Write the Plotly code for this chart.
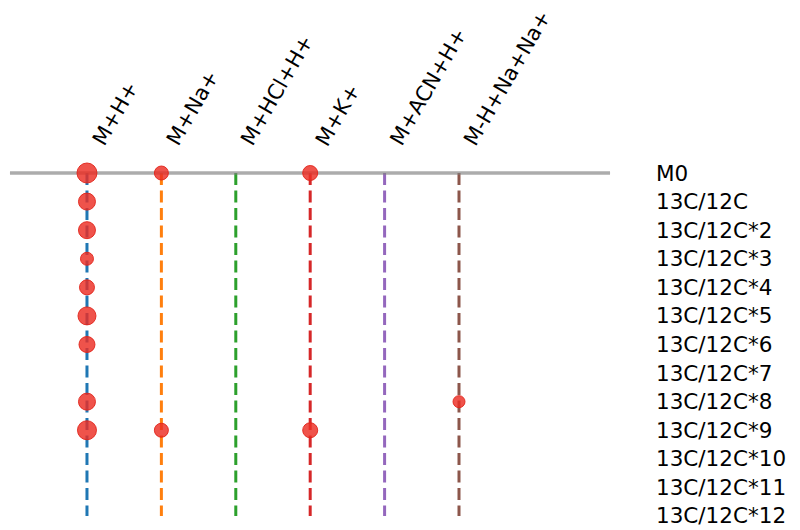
import plotly.graph_objects as go

adducts = ["M+H+", "M+Na+", "M+HCl+H+", "M+K+", "M+ACN+H+", "M-H+Na+Na+"]
isotopes = ["M0", "13C/12C"] + [f"13C/12C*{i}" for i in range(2, 13)]
line_colors = ["#1f77b4", "#ff7f0e", "#2ca02c", "#d62728", "#9467bd", "#8c564b"]

# marker diameters (px) per adduct, per isotope row; None = no detection
sizes_mh = [20, 17, 17, 13, 15, 18, 16, None, 17, 19, None, None, None]
sizes_mna = [14, None, None, None, None, None, None, None, None, 14, None, None, None]
sizes_mhcl = [None] * 13
sizes_mk = [15, None, None, None, None, None, None, None, None, 15, None, None, None]
sizes_macn = [None] * 13
sizes_mhnana = [None, None, None, None, None, None, None, None, 12, None, None, None, None]
all_sizes = [sizes_mh, sizes_mna, sizes_mhcl, sizes_mk, sizes_macn, sizes_mhnana]

FONT = "DejaVu Sans"
FS = 21.5
FS_COL = 21
fig = go.Figure()

n_rows = len(isotopes)
for j, (name, col) in enumerate(zip(adducts, line_colors)):
    fig.add_trace(go.Scatter(
        x=[j, j], y=[0, n_rows - 1], mode="lines",
        line=dict(color=col, width=3, dash="12px,5.5px"),
        hoverinfo="skip", showlegend=False))

fig.add_trace(go.Scatter(
    x=[-1.035, 7.03], y=[0, 0], mode="lines",
    line=dict(color="rgba(128,128,128,0.65)", width=3.5),
    hoverinfo="skip", showlegend=False))

px_, py_, ps_ = [], [], []
for j, sizes in enumerate(all_sizes):
    for i, s in enumerate(sizes):
        if s is not None:
            px_.append(j)
            py_.append(i)
            ps_.append(s)
fig.add_trace(go.Scatter(
    x=px_, y=py_, mode="markers",
    marker=dict(size=ps_, color="rgba(235,45,35,0.82)", opacity=1,
                line=dict(width=1, color="rgba(225,35,25,0.9)")),
    showlegend=False))

for j, name in enumerate(adducts):
    fig.add_annotation(
        x=j - 0.03, y=-0.72, text=name, showarrow=False, textangle=-60,
        xanchor="left", yanchor="bottom",
        font=dict(family=FONT, size=FS_COL, color="black"))

for i, name in enumerate(isotopes):
    fig.add_annotation(
        x=7.62, y=i, text=name, showarrow=False,
        xanchor="left", yanchor="middle",
        font=dict(family=FONT, size=FS, color="black"))

fig.update_layout(
    width=800, height=530,
    margin=dict(l=0, r=0, t=0, b=0),
    paper_bgcolor="white", plot_bgcolor="white",
    xaxis=dict(range=[-1.169, 9.583], visible=False, fixedrange=True),
    yaxis=dict(range=[12.49, -6.053], visible=False, fixedrange=True),
    showlegend=False,
)

fig.write_html("out.html")
